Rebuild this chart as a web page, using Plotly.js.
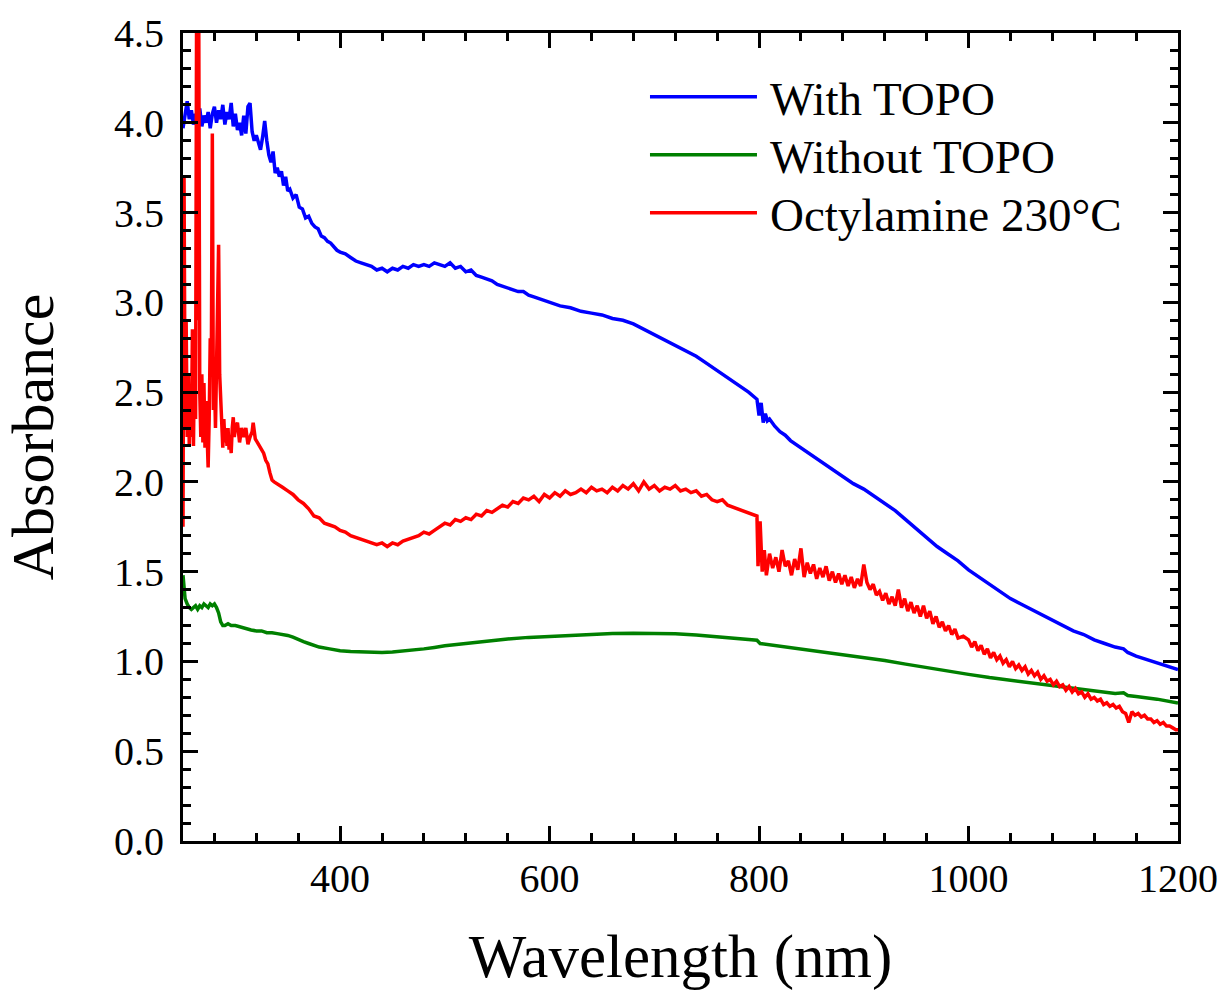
<!DOCTYPE html>
<html>
<head>
<meta charset="utf-8">
<script src="https://cdn.plot.ly/plotly-3.0.1.min.js"></script>
<style>html,body{margin:0;padding:0;background:#fff;}#chart{width:1225px;height:991px;}</style>
</head>
<body>
<div id="chart"></div>
<script>
// ---- Data ----
const seriesNames = ["With TOPO", "Without TOPO", "Octylamine 230\u00B0C"];

const withTopoX = [250,252,254,256,258,260,262,264,266,268,270,272,274,276,278,280,282,284,286,288,290,292,294,296,298,300,302,304,306,308,310,312,314,316,318,320,322,324,326,328,330,332,334,336,338,340,342,344,346,348,350,352,355,358,361,364,367,370,373,376,379,382,385,388,391,394,397,400,405,410,415,420,425,430,435,440,445,450,455,460,465,470,475,480,485,490,495,500,505,510,515,520,525,530,535,540,545,550,555,560,565,570,575,580,585,590,595,600,610,620,630,640,650,660,670,680,690,700,710,720,730,740,750,760,770,780,790,798,800,802,804,806,808,810,815,820,825,830,835,840,845,850,860,870,880,890,900,910,920,930,940,950,960,970,980,990,1000,1010,1020,1030,1040,1050,1060,1070,1080,1090,1100,1110,1120,1130,1140,1148,1152,1160,1170,1180,1190,1200];
const withTopoY = [3.97,4.06,4.12,4.02,4.07,3.99,4.05,4.01,4.08,3.98,4.04,4.00,4.06,3.97,4.05,4.09,4.00,4.07,4.02,4.10,3.99,4.06,4.02,4.11,3.98,4.05,3.96,4.00,3.93,4.04,3.94,4.09,4.11,3.95,3.90,3.93,3.88,3.85,3.92,4.01,3.90,3.82,3.78,3.84,3.72,3.75,3.70,3.73,3.65,3.70,3.62,3.63,3.58,3.60,3.53,3.52,3.47,3.48,3.44,3.42,3.41,3.37,3.36,3.34,3.33,3.31,3.29,3.28,3.27,3.25,3.23,3.22,3.21,3.20,3.18,3.19,3.17,3.19,3.18,3.20,3.19,3.21,3.20,3.21,3.20,3.22,3.21,3.20,3.22,3.19,3.20,3.17,3.18,3.15,3.14,3.13,3.12,3.10,3.09,3.08,3.07,3.06,3.06,3.04,3.03,3.02,3.01,3.00,2.98,2.97,2.95,2.94,2.93,2.91,2.90,2.88,2.85,2.82,2.79,2.76,2.73,2.70,2.66,2.62,2.58,2.54,2.50,2.46,2.37,2.44,2.33,2.38,2.34,2.35,2.31,2.28,2.26,2.23,2.21,2.19,2.17,2.15,2.11,2.07,2.03,1.99,1.96,1.92,1.88,1.84,1.79,1.74,1.69,1.64,1.60,1.56,1.51,1.47,1.43,1.39,1.35,1.32,1.29,1.26,1.23,1.20,1.17,1.15,1.12,1.10,1.08,1.07,1.05,1.03,1.01,0.99,0.97,0.955];

const withoutTopoX = [250,251,252,254,256,258,260,262,264,266,268,270,272,274,276,278,280,282,284,286,288,290,293,296,300,305,310,315,320,325,330,335,340,345,350,355,360,365,370,375,380,390,400,410,420,430,440,450,460,470,480,490,500,520,540,560,580,600,620,640,660,680,700,720,740,760,780,798,801,820,840,860,880,900,920,940,960,980,1000,1020,1040,1060,1080,1100,1120,1140,1148,1152,1160,1180,1200];
const withoutTopoY = [1.48,1.40,1.35,1.32,1.30,1.29,1.30,1.31,1.29,1.31,1.30,1.32,1.31,1.30,1.32,1.31,1.32,1.30,1.27,1.22,1.20,1.20,1.21,1.20,1.20,1.19,1.18,1.175,1.17,1.17,1.16,1.16,1.155,1.15,1.145,1.135,1.12,1.11,1.10,1.09,1.08,1.07,1.06,1.055,1.052,1.05,1.05,1.052,1.057,1.063,1.07,1.078,1.087,1.10,1.113,1.125,1.134,1.14,1.147,1.152,1.155,1.157,1.157,1.154,1.147,1.138,1.128,1.118,1.10,1.085,1.07,1.055,1.04,1.025,1.005,0.985,0.965,0.945,0.928,0.91,0.895,0.88,0.865,0.85,0.835,0.822,0.825,0.81,0.805,0.79,0.768];

const octylX = [250,250.5,251,252,253,254,255,256,257,258,259,260,261,262,263,264,265,266,267,268,269,270,271,272,273,274,275,276,277,278,279,280,281,282,283,284,285,286,287,288,289,290,291,292,293,294,295,296,297,298,299,300,302,304,306,308,310,312,314,316,317,319,321,323,325,327,329,331,333,335,337,340,345,350,355,360,365,370,375,380,385,390,395,400,405,410,415,420,425,430,435,440,445,450,455,460,465,470,475,480,485,490,495,500,505,510,515,520,525,530,535,540,545,550,555,560,565,570,575,580,585,590,595,600,605,610,615,620,625,630,635,640,645,650,655,660,665,670,675,680,685,690,695,700,705,710,715,720,725,730,735,740,745,750,755,760,765,770,775,780,785,790,795,798,799,801,803,805,807,810,813,816,819,822,825,828,831,834,837,840,843,846,849,852,855,858,861,864,867,870,873,876,879,882,885,888,891,894,897,900,903,906,909,912,915,918,921,924,927,930,933,936,939,942,945,948,951,954,957,960,963,966,969,972,975,978,981,984,987,990,995,1000,1003,1006,1009,1012,1015,1018,1021,1024,1027,1030,1033,1036,1039,1042,1045,1048,1051,1054,1057,1060,1063,1066,1069,1072,1075,1078,1081,1084,1087,1090,1093,1096,1099,1102,1105,1108,1111,1114,1117,1120,1123,1126,1129,1132,1135,1138,1141,1144,1147,1150,1153,1156,1159,1162,1165,1168,1171,1174,1177,1180,1183,1186,1189,1192,1195,1198,1200];
const octylY = [1.75,2.60,3.70,2.30,2.90,2.25,2.60,2.20,2.50,2.25,2.85,2.20,2.75,2.35,4.70,2.90,4.70,2.50,2.25,2.60,2.22,2.55,2.19,2.45,2.22,2.08,2.35,2.80,2.60,3.94,2.40,2.60,2.30,2.60,2.85,3.32,2.60,2.45,2.25,2.19,2.35,2.22,2.30,2.20,2.30,2.18,2.25,2.16,2.30,2.36,2.25,2.30,2.33,2.22,2.30,2.25,2.30,2.21,2.25,2.28,2.33,2.24,2.22,2.20,2.18,2.16,2.12,2.10,2.05,2.01,2.00,1.99,1.97,1.95,1.93,1.90,1.88,1.85,1.81,1.80,1.77,1.76,1.75,1.73,1.72,1.70,1.69,1.68,1.67,1.66,1.65,1.66,1.64,1.66,1.65,1.67,1.68,1.69,1.70,1.72,1.71,1.73,1.75,1.77,1.76,1.79,1.78,1.80,1.79,1.82,1.81,1.84,1.83,1.85,1.87,1.86,1.89,1.88,1.91,1.90,1.92,1.89,1.93,1.91,1.94,1.92,1.95,1.93,1.94,1.96,1.94,1.97,1.95,1.96,1.94,1.97,1.95,1.98,1.96,1.99,1.95,2.00,1.96,1.98,1.95,1.97,1.96,1.98,1.95,1.96,1.94,1.95,1.92,1.93,1.90,1.89,1.90,1.87,1.86,1.85,1.84,1.83,1.82,1.81,1.53,1.78,1.50,1.62,1.48,1.60,1.52,1.58,1.50,1.62,1.53,1.56,1.48,1.57,1.51,1.63,1.47,1.55,1.49,1.54,1.46,1.52,1.47,1.53,1.45,1.50,1.44,1.49,1.43,1.48,1.42,1.47,1.41,1.46,1.42,1.54,1.44,1.40,1.43,1.37,1.39,1.34,1.38,1.32,1.36,1.31,1.40,1.30,1.35,1.28,1.33,1.27,1.31,1.25,1.31,1.24,1.28,1.21,1.25,1.19,1.22,1.17,1.20,1.15,1.18,1.13,1.14,1.12,1.08,1.11,1.06,1.09,1.04,1.07,1.02,1.05,1.01,1.03,0.99,1.01,0.97,1.00,0.96,0.98,0.95,0.97,0.93,0.95,0.92,0.94,0.90,0.92,0.89,0.90,0.87,0.89,0.86,0.87,0.84,0.86,0.83,0.85,0.82,0.83,0.80,0.82,0.79,0.80,0.78,0.79,0.76,0.77,0.75,0.76,0.74,0.75,0.72,0.71,0.66,0.72,0.70,0.71,0.69,0.70,0.68,0.68,0.66,0.67,0.65,0.66,0.64,0.64,0.63,0.62,0.62];

const xTickVals = [400, 600, 800, 1000, 1200];
const yTickVals = [0.0, 0.5, 1.0, 1.5, 2.0, 2.5, 3.0, 3.5, 4.0, 4.5];

// ---- Plot ----
const FONT = "Liberation Serif, Times New Roman, serif";
const colors = ["#0000ff", "#008000", "#ff0000"];
const traces = [
  {x: withTopoX, y: withTopoY, name: seriesNames[0]},
  {x: withoutTopoX, y: withoutTopoY, name: seriesNames[1]},
  {x: octylX, y: octylY, name: seriesNames[2]}
].map((t, i) => Object.assign(t, {type: "scatter", mode: "lines", line: {color: colors[i], width: 3.5}}));

const axisCommon = {
  showline: true, linecolor: "#000", linewidth: 3, mirror: "allticks",
  ticks: "inside", ticklen: 15, tickwidth: 3, tickcolor: "#000",
  showgrid: false, zeroline: false,
  tickfont: {family: FONT, size: 40, color: "#000"}
};

const layout = {
  width: 1225, height: 991,
  paper_bgcolor: "#fff", plot_bgcolor: "#fff",
  margin: {l: 183, r: 47, t: 33, b: 150},
  showlegend: true,
  legend: {
    x: 0.4643, y: 0.967, xanchor: "left", yanchor: "top",
    bgcolor: "rgba(0,0,0,0)", borderwidth: 0,
    font: {family: FONT, size: 47, color: "#000"},
    itemwidth: 115, tracegroupgap: 0
  },
  xaxis: Object.assign({}, axisCommon, {
    range: [250, 1200], tickvals: xTickVals,
    minor: {dtick: 40, tick0: 0, ticks: "inside", ticklen: 8, tickwidth: 3, tickcolor: "#000", showgrid: false},
    title: {text: "Wavelength (nm)", font: {family: FONT, size: 61, color: "#000"}, standoff: 36}
  }),
  yaxis: Object.assign({}, axisCommon, {
    range: [0, 4.5], tickvals: yTickVals, tickformat: ".1f",
    minor: {dtick: 0.1, tick0: 0, ticks: "inside", ticklen: 8, tickwidth: 3, tickcolor: "#000", showgrid: false},
    ticklabelstandoff: 8,
    title: {text: "Absorbance", font: {family: FONT, size: 60, color: "#000"}, standoff: 42}
  })
};

Plotly.newPlot("chart", traces, layout, {staticPlot: true, displayModeBar: false}).then(function (gd) {
  gd.querySelectorAll(".legendlines path").forEach(function (p) { p.setAttribute("d", "M5,0h107"); });
  var items = gd.querySelectorAll(".legend .traces");
  var y0 = null;
  items.forEach(function (g, i) {
    var m = /translate\(\s*([-\d.]+)[ ,]+([-\d.]+)\s*\)/.exec(g.getAttribute("transform") || "");
    if (!m) return;
    if (y0 === null) y0 = parseFloat(m[2]);
    g.setAttribute("transform", "translate(" + m[1] + "," + (y0 + i * 58) + ")");
  });
});
</script>
</body>
</html>
